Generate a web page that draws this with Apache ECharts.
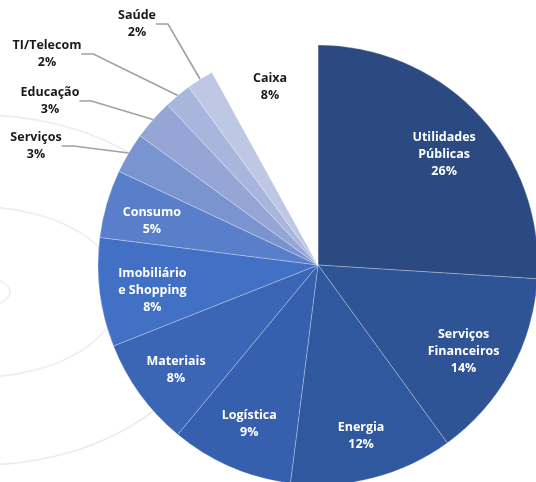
<!DOCTYPE html>
<html>
<head>
<meta charset="utf-8">
<script src="https://cdn.jsdelivr.net/npm/echarts@6/dist/echarts.min.js"></script>
<style>
html,body{margin:0;padding:0;background:#fff;}
#c{width:536px;height:482px;}
</style>
</head>
<body>
<div id="c"></div>
<script>
const categories = ['Utilidades\nPúblicas', 'Serviços\nFinanceiros', 'Energia', 'Logística', 'Materiais', 'Imobiliário\ne Shopping', 'Consumo', 'Serviços', 'Educação', 'TI/Telecom', 'Saúde', 'Caixa'];
const values = [26, 14, 12, 9, 8, 8, 5, 3, 3, 2, 2, 8];
const colors = ['#2C4A82', '#2F5495', '#30589F', '#3660AD', '#3A66B5', '#4270C4', '#5A7FCA', '#7A94CF', '#95A6D6', '#A8B6DD', '#BEC8E5', '#FFFFFF'];
const outsideIdx = [7, 8, 9, 10];
const outsidePos = {7: [36, 146], 8: [50, 101], 9: [47, 54], 10: [137, 24]};
const insideNudge = {0: [0, 8], 1: [-6, 3], 2: [0, 3], 4: [-2, 3], 5: [6, 4], 6: [0, 4], 11: [-5, -10]};

const FONT = '"Open Sans"';
const chart = echarts.init(document.getElementById('c'), null, {renderer: 'canvas'});

const fillData = categories.map((n, i) => ({
  name: n, value: values[i],
  itemStyle: {color: colors[i]},
  label: outsideIdx.includes(i) ? {show: true} : {show: false},
  labelLine: outsideIdx.includes(i) ? {show: true} : {show: false}
}));
const labelData = categories.map((n, i) => ({
  name: n, value: values[i],
  label: outsideIdx.includes(i) ? {show: false} : {show: true, color: i === 11 ? '#1a1a1a' : '#ffffff'}
}));

const deco = {type: 'ellipse', z: -10, silent: true,
  style: {fill: 'none', stroke: '#ededed', lineWidth: 1.6}};

chart.setOption({
  animation: false,
  backgroundColor: '#ffffff',
  graphic: [
    Object.assign({}, deco, {shape: {cx: -22, cy: 292, rx: 32, ry: 15}}),
    Object.assign({}, deco, {shape: {cx: -20, cy: 292, rx: 140, ry: 85}}),
    Object.assign({}, deco, {shape: {cx: -20, cy: 290, rx: 240, ry: 175}})
  ],
  series: [
    {
      type: 'pie',
      center: [318, 265],
      radius: [0, 220],
      startAngle: 90,
      clockwise: true,
      silent: true,
      itemStyle: {borderColor: 'rgba(255,255,255,0.45)', borderWidth: 0.6},
      label: {
        position: 'outside',
        formatter: p => p.name + '\n' + p.value + '%',
        color: '#1a1a1a', fontFamily: FONT, fontWeight: 'bold', fontSize: 12.5,
        lineHeight: 17, align: 'center'
      },
      labelLine: {show: true, length: 20, length2: 12, smooth: false,
        lineStyle: {color: '#A0A0A0', width: 1.6}},
      labelLayout: function (params) {
        const p = outsidePos[params.dataIndex];
        if (!p) return {};
        return {x: p[0], y: p[1], align: 'center', verticalAlign: 'middle'};
      },
      data: fillData
    },
    {
      type: 'pie',
      center: [318, 265],
      radius: [120, 220],
      startAngle: 90,
      clockwise: true,
      silent: true,
      itemStyle: {color: 'rgba(0,0,0,0)', borderWidth: 0},
      label: {
        position: 'inside',
        formatter: p => p.name + '\n' + p.value + '%',
        fontFamily: FONT, fontWeight: 'bold', fontSize: 12.5, lineHeight: 17, align: 'center'
      },
      labelLine: {show: false},
      labelLayout: function (params) {
        const d = insideNudge[params.dataIndex];
        if (!d) return {};
        return {dx: d[0], dy: d[1]};
      },
      data: labelData
    }
  ]
});
</script>
</body>
</html>
